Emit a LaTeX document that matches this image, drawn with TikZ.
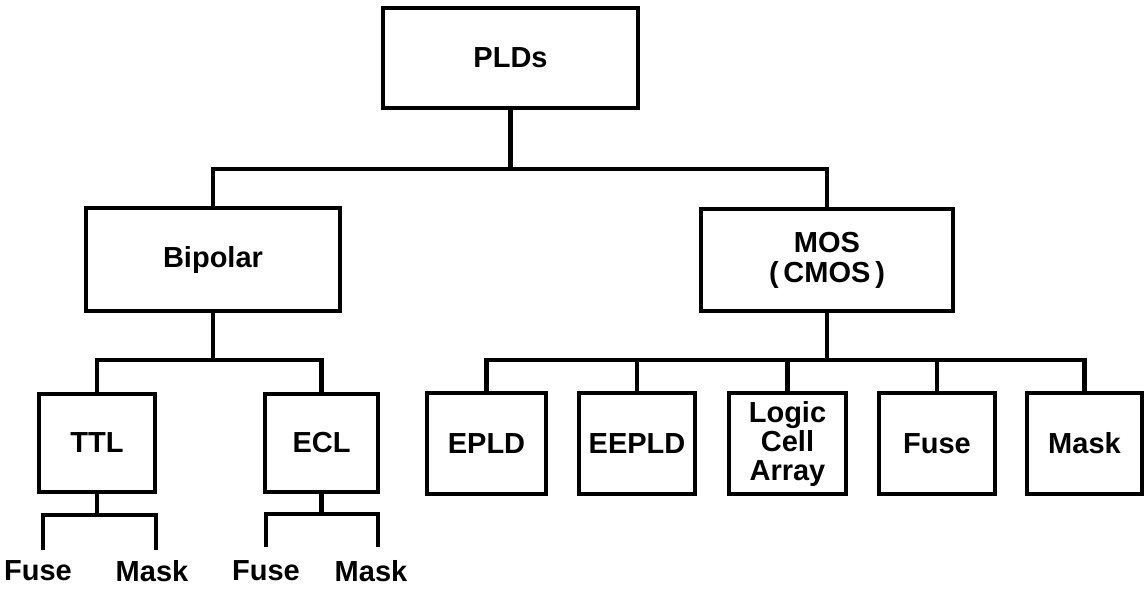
\documentclass[tikz,border=0pt]{standalone}
\usepackage{fontspec}
\setmainfont{Liberation Sans}
\begin{document}
\begin{tikzpicture}[x=1pt,y=-1pt,
  box/.style={draw, line width=4.5pt, inner sep=0pt, align=center,
    font=\fontsize{29}{29}\selectfont\bfseries},
  leaf/.style={inner sep=0pt, font=\fontsize{29}{29}\selectfont\bfseries},
  wire/.style={line width=4.8pt, line join=miter}]
\useasboundingbox (0,0) rectangle (1144,589);

% top level
\node[box, minimum width=255pt, minimum height=100pt] (plds) at (510.5,58) {PLDs};

% technology families
\node[box, minimum width=254pt, minimum height=103pt] (bip) at (213,259.5) {Bipolar};
\node[box, minimum width=252pt, minimum height=102pt] (mos) at (827,260) {MOS\\[1pt](\,CMOS\,)};

% bipolar branches
\node[box, minimum width=116pt, minimum height=98pt] (ttl) at (97,443) {TTL};
\node[box, minimum width=113pt, minimum height=98pt] (ecl) at (321.5,443) {ECL};

% MOS branches
\node[box, minimum width=119pt, minimum height=101pt] (epld) at (486.5,443.5) {EPLD};
\node[box, minimum width=116pt, minimum height=101pt] (eepld) at (637,443.5) {EEPLD};
\node[box, minimum width=117pt, minimum height=101pt] (lca) at (787.5,443.5) {Logic\\Cell\\Array};
\node[box, minimum width=116pt, minimum height=101pt] (mfuse) at (937,443.5) {Fuse};
\node[box, minimum width=115pt, minimum height=101pt] (mmask) at (1084.5,443.5) {Mask};

% programming options under TTL and ECL
\node[leaf] (tfuse) at (38,571) {Fuse};
\node[leaf] (tmask) at (152,571) {Mask};
\node[leaf] (efuse) at (266,571) {Fuse};
\node[leaf] (emask) at (371,571) {Mask};

% junction points of the tree
\coordinate (j1) at (510.5,169);
\coordinate (j2) at (213,360);
\coordinate (j3) at (827,360);
\coordinate (jt) at (97,515);
\coordinate (je) at (321.5,514);

% free ends of the short legs above the leaf labels
\coordinate (tfl) at (43,550);
\coordinate (tml) at (156,550);
\coordinate (efl) at (266,547);
\coordinate (eml) at (378,547);

% connectors
\draw[wire] (plds.south) -- (j1);
\draw[wire] (bip.north) |- (j1) -| (mos.north);

\draw[wire] (bip.south) -- (j2);
\draw[wire] (ttl.north) |- (j2) -| (ecl.north);

\draw[wire] (mos.south) -- (j3);
\draw[wire] (epld.north) |- (j3) -| (mmask.north);
\draw[wire] (eepld.north) -- (eepld.north |- j3);
\draw[wire] (lca.north) -- (lca.north |- j3);
\draw[wire] (mfuse.north) -- (mfuse.north |- j3);

\draw[wire] (ttl.south) -- (jt);
\draw[wire] (tfl) |- (jt) -| (tml);
\draw[wire] (ecl.south) -- (je);
\draw[wire] (efl) |- (je) -| (eml);
\end{tikzpicture}
\end{document}
